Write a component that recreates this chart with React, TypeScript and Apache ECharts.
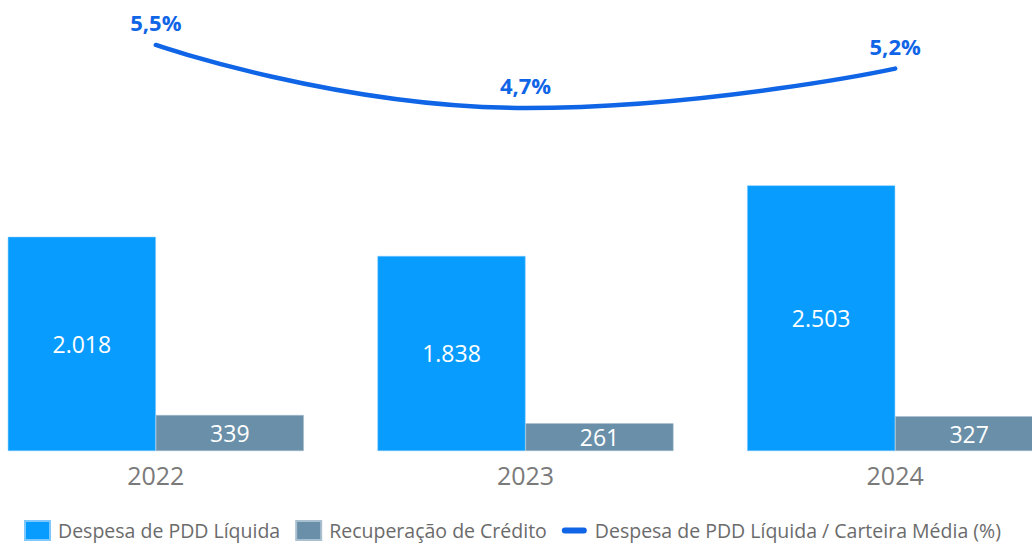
import React, { useEffect, useRef } from "react";
import * as echarts from "echarts";

const categories = ["2022", "2023", "2024"];
const despesaPDD = [2018, 1838, 2503];
const recuperacao = [339, 261, 327];
const ratioPct = [5.5, 4.7, 5.2];
const legendNames = [
  "Despesa de PDD Líquida",
  "Recuperação de Crédito",
  "Despesa de PDD Líquida / Carteira Média (%)",
];

const FONT = "'Open Sans', sans-serif";
const LINE_COLOR = "#1065e6";
const fmtThousands = (v: number) => String(v).replace(/\B(?=(\d{3})+(?!\d))/g, ".");
const fmtPct = (v: number) => v.toFixed(1).replace(".", ",") + "%";

export default function App() {
  const ref = useRef<HTMLDivElement>(null);
  useEffect(() => {
    if (!ref.current) return;
    const chart = echarts.init(ref.current, undefined, { renderer: "svg" });
    chart.setOption({
      animation: false,
      backgroundColor: "#ffffff",
      textStyle: { fontFamily: FONT },
      legend: {
        left: 53,
        top: 520,
        padding: 0,
        itemWidth: 25,
        itemHeight: 19,
        itemGap: 15,
        textStyle: { color: "#6b6b6b", fontSize: 19.5, lineHeight: 19, fontFamily: FONT, padding: [0, 0, 0, 3] },
        data: [
          { name: legendNames[0], icon: "rect" },
          { name: legendNames[1], icon: "rect" },
          {
            name: legendNames[2],
            icon: "path://M3,0 L22,0 A3,3 0 0 1 22,6 L3,6 A3,3 0 0 1 3,0 Z",
            itemStyle: { color: LINE_COLOR },
          },
        ],
      },
      grid: { left: 0, right: 0, top: 0, bottom: 92 },
      xAxis: {
        type: "category",
        data: categories,
        axisLine: { show: false },
        axisTick: { show: false },
        axisLabel: { color: "#7a7a7a", fontSize: 25, margin: 11, fontFamily: FONT },
      },
      yAxis: [
        { type: "value", min: 0, max: 4250, show: false },
        { type: "value", min: 0.344, max: 6.071, show: false },
      ],
      series: [
        {
          name: legendNames[0],
          type: "bar",
          data: despesaPDD,
          barWidth: 148,
          barGap: "0%",
          itemStyle: { color: "#089cff", borderColor: "#7cc8ff", borderWidth: 0.5 },
          label: {
            show: true,
            position: "inside",
            color: "#ffffff",
            fontSize: 23,
            fontFamily: FONT,
            formatter: (p: any) => fmtThousands(p.value),
          },
        },
        {
          name: legendNames[1],
          type: "bar",
          data: recuperacao,
          barWidth: 148,
          barGap: "0%",
          itemStyle: { color: "#6a8fa9", borderColor: "#a9c0d0", borderWidth: 0.5 },
          label: {
            show: true,
            position: "inside",
            color: "#ffffff",
            fontSize: 23,
            fontFamily: FONT,
            formatter: (p: any) => fmtThousands(p.value),
          },
        },
        {
          name: legendNames[2],
          type: "line",
          yAxisIndex: 1,
          data: ratioPct,
          smooth: true,
          symbol: "circle",
          symbolSize: 1,
          lineStyle: { color: LINE_COLOR, width: 4.5, cap: "round" },
          itemStyle: { color: LINE_COLOR },
          label: {
            show: true,
            position: "top",
            distance: 11,
            color: LINE_COLOR,
            fontSize: 22,
            fontWeight: "bold",
            fontFamily: FONT,
            formatter: (p: any) => fmtPct(p.value),
          },
        },
      ],
    });
    return () => chart.dispose();
  }, []);
  return (
    <div style={{ position: "fixed", left: 0, top: 0, right: 0, bottom: 0, overflow: "hidden", background: "#fff" }}>
      <div ref={ref} style={{ position: "absolute", left: -29, top: 0, width: 1109, height: 543 }} />
    </div>
  );
}
